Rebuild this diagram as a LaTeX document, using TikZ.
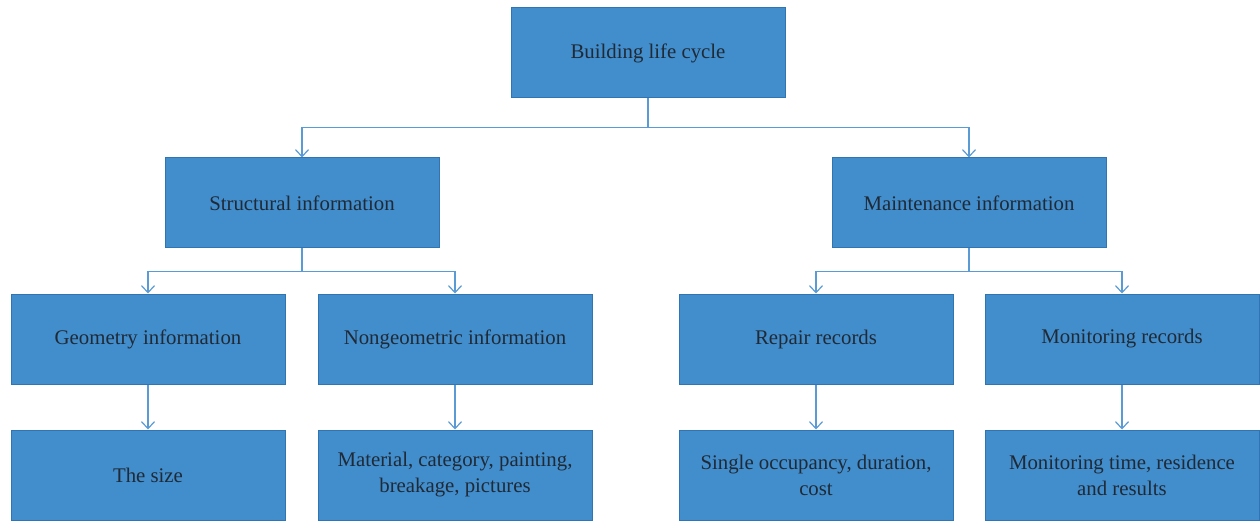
\documentclass[tikz,border=0pt]{standalone}
\usepackage{fontspec}
\setmainfont{Liberation Serif}
\usetikzlibrary{arrows.meta}
\definecolor{boxfill}{HTML}{428DCB}
\definecolor{boxedge}{HTML}{2F74B3}
\definecolor{linkblue}{HTML}{5B9BD5}
\definecolor{textdark}{HTML}{1F2A36}
\begin{document}
\begin{tikzpicture}[x=1pt,y=-1pt,
  box/.style={draw=boxedge, fill=boxfill, line width=1pt,
    minimum width=274pt, minimum height=90pt, inner sep=0pt,
    align=center, text=textdark, font=\fontsize{20.8}{26}\selectfont},
  link/.style={draw=linkblue, line width=1.2pt},
  tip/.style={link, -{Straight Barb[length=7pt,width=13pt]}}]
\useasboundingbox (0,0) rectangle (1260,521);

% top level
\node[box] (life) at (648,53) {Building life cycle};

% second level
\node[box] (struct) at (302,203) {Structural information};
\node[box] (maint) at (969,203) {Maintenance information};

% third level
\node[box] (geo) at (148,339) {Geometry information};
\node[box] (nongeo) at (455,339) {Nongeometric information};
\node[box] (repair) at (816,339) {Repair records};
\node[box] (monitor) at (1122,339) {Monitoring records};

% fourth level
\node[box] (size) at (148,475) {The size};
\node[box] (material) at (455,475) {Material, category, painting,\\breakage, pictures};
\node[box] (single) at (816,475) {Single occupancy, duration,\\cost};
\node[box] (results) at (1122,475) {Monitoring time, residence\\and results};

% branching connectors
\draw[link] (life.south) -- ++(0,29) coordinate (j1);
\draw[tip] (j1) -| (struct.north);
\draw[tip] (j1) -| (maint.north);

\draw[link] (struct.south) -- ++(0,23) coordinate (j2);
\draw[tip] (j2) -| (geo.north);
\draw[tip] (j2) -| (nongeo.north);

\draw[link] (maint.south) -- ++(0,23) coordinate (j3);
\draw[tip] (j3) -| (repair.north);
\draw[tip] (j3) -| (monitor.north);

% straight connectors
\draw[tip] (geo) -- (size);
\draw[tip] (nongeo) -- (material);
\draw[tip] (repair) -- (single);
\draw[tip] (monitor) -- (results);
\end{tikzpicture}
\end{document}
